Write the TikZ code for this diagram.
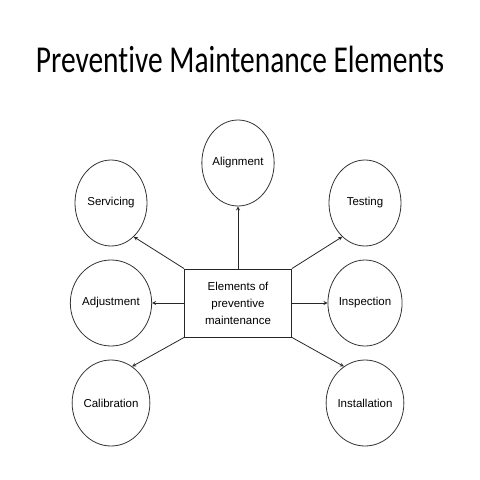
\documentclass[tikz,border=0pt]{standalone}
\usepackage{fontspec}
\setmainfont{Liberation Sans}
\newfontfamily\titlefont[Ligatures=NoCommon]{Carlito}
\usetikzlibrary{arrows,positioning,shapes.geometric}

\begin{document}
\begin{tikzpicture}[x=1pt, y=-1pt, node distance={100pt and 127pt}, on grid,
        main/.style = {draw=black!80, line width=0.8pt, ellipse, minimum width=72pt, minimum height=86pt, inner sep=0pt, font=\fontsize{11.5}{13}\selectfont},
        centre/.style = {draw=black!85, line width=0.9pt, rectangle, minimum width=107pt, minimum height=68pt, align=center, font=\fontsize{11.5}{17}\selectfont},
        link/.style = {-stealth, draw=black!85, line width=0.8pt}]
        \useasboundingbox (0,0) rectangle (480,480);
        \node[anchor=base, font=\titlefont\fontsize{38}{40}\selectfont] (title) at (240,72) {\scalebox{0.775}[1]{Preventive Maintenance Elements}};
        \node[centre] (c) at (238,303) {Elements of\\preventive\\maintenance};
        \node[main] (align) [above=140pt of c]      {Alignment};
        \node[main] (serv)  [above left=of c]       {Servicing};
        \node[main] (test)  [above right=of c]      {Testing};
        \node[main] (adj)   [left=of c]             {Adjustment};
        \node[main] (insp)  [right=of c]            {Inspection};
        \node[main] (cal)   [below left=of c]       {Calibration};
        \node[main] (inst)  [below right=of c]      {Installation};
        \draw[link] (c.north) -- (align);
        \draw[link] (c.north west) -- (serv.-56);
        \draw[link] (c.north east) -- (test.236);
        \draw[link] (c.west) -- (adj);
        \draw[link] (c.east) -- (insp);
        \draw[link] (c.south west) -- (cal.60);
        \draw[link] (c.south east) -- (inst.120);
    \end{tikzpicture}
\end{document}
